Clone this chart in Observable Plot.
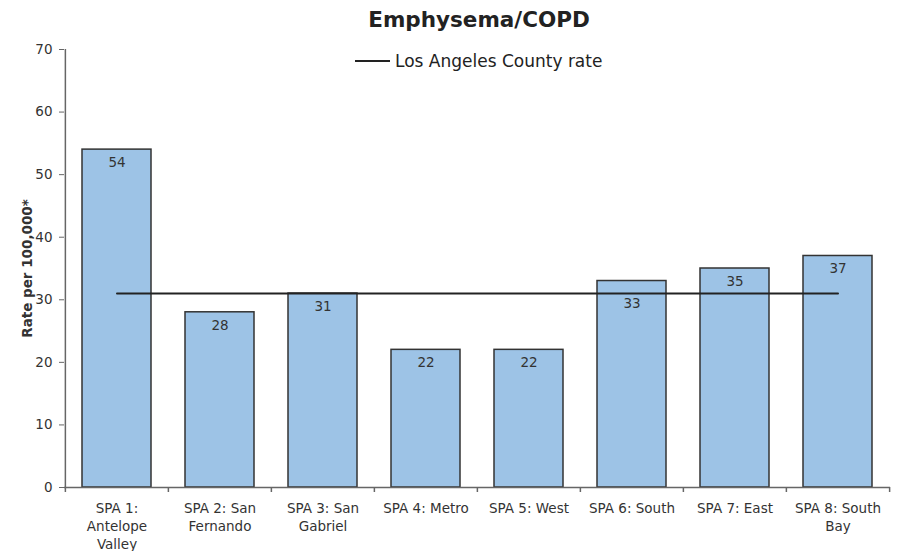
<!DOCTYPE html>
<html><head><meta charset="utf-8">
<script src="https://cdn.jsdelivr.net/npm/d3@7"></script>
<script src="https://cdn.jsdelivr.net/npm/@observablehq/plot@0.6"></script>
<style>
body{margin:0;background:#fff;font-family:"DejaVu Sans",Verdana,sans-serif;}
#wrap{position:relative;width:900px;height:551px;}
#title{position:absolute;left:479px;top:7px;transform:translateX(-50%);font-weight:bold;font-size:21.5px;color:#222;white-space:nowrap;}
#legend{position:absolute;left:355px;top:51px;display:flex;align-items:center;font-size:17px;color:#222;white-space:nowrap;}
#legend .sw{width:35px;height:0;border-top:2px solid #222;margin-right:5px;}
#chart{position:absolute;left:0;top:0;}
svg g[aria-label="y-axis label"] text{font-weight:bold;}
</style></head>
<body>
<div id="wrap">
<div id="chart"></div>
<div id="title">Emphysema/COPD</div>
<div id="legend"><span class="sw"></span><span>Los Angeles County rate</span></div>
</div>
<script>
const categories = ["SPA 1: Antelope Valley","SPA 2: San Fernando","SPA 3: San Gabriel","SPA 4: Metro","SPA 5: West","SPA 6: South","SPA 7: East","SPA 8: South Bay"];
const tickLabels = ["SPA 1:\nAntelope\nValley","SPA 2: San\nFernando","SPA 3: San\nGabriel","SPA 4: Metro","SPA 5: West","SPA 6: South","SPA 7: East","SPA 8: South\nBay"];
const rates = [54,28,31,22,22,33,35,37];
const countyRate = 31;
const yTicks = [0,10,20,30,40,50,60,70];

const data = categories.map((c,i)=>({cat:c, rate:rates[i], county:countyRate}));
const W = 900, H = 551, ML = 64, MR = 10, MT = 49, MB = 64;
const step = (W - ML - MR) / categories.length;
// labels whose default spot would sit on the county line get pushed below it
const collides = d => d.rate - d.county > 0 && d.rate - d.county < 3;

const chart = Plot.plot({
  width: W, height: H,
  marginTop: MT, marginBottom: MB, marginLeft: ML, marginRight: MR,
  style: {fontFamily: '"DejaVu Sans", Verdana, sans-serif', color: "#333", background: "#fff"},
  x: {domain: categories, paddingInner: 0.33, paddingOuter: 0.165},
  y: {domain: [0, 70]},
  marks: [
    Plot.barY(data, {x: "cat", y: "rate", fill: "#9DC3E6", stroke: "#333", strokeWidth: 1.5}),
    Plot.ruleY([0], {stroke: "#666", strokeWidth: 1.5}),
    Plot.ruleX([categories[0]], {x: d => d, dx: -step/2, y1: 0, y2: 70, stroke: "#666", strokeWidth: 1.5}),
    Plot.ruleX(categories, {x: d => d, dx: -step/2, y1: 0, y2: 0, insetBottom: -5, stroke: "#666", strokeWidth: 1.5}),
    Plot.ruleX([categories[categories.length-1]], {x: d => d, dx: step/2, y1: 0, y2: 0, insetBottom: -5, stroke: "#666", strokeWidth: 1.5}),
    Plot.axisX({tickSize: 0, tickPadding: 13, fontSize: 13.5, lineHeight: 1.33, label: null,
      tickFormat: d => tickLabels[categories.indexOf(d)]}),
    Plot.axisY({ticks: yTicks, tickSize: 5, tickPadding: 7, fontSize: 13.5, stroke: "#666",
      label: "Rate per 100,000*", labelAnchor: "center", labelOffset: 42, labelArrow: "none"}),
    Plot.line(data, {x: "cat", y: "county", stroke: "#222", strokeWidth: 2}),
    Plot.text(data, {filter: d => !collides(d), x: "cat", y: "rate", text: d => String(d.rate), dy: 13, fontSize: 13.5, fill: "#333"}),
    Plot.text(data, {filter: collides, x: "cat", y: "rate", text: d => String(d.rate), dy: 23, fontSize: 13.5, fill: "#333"})
  ]
});
document.getElementById("chart").appendChild(chart);
</script>
</body></html>
